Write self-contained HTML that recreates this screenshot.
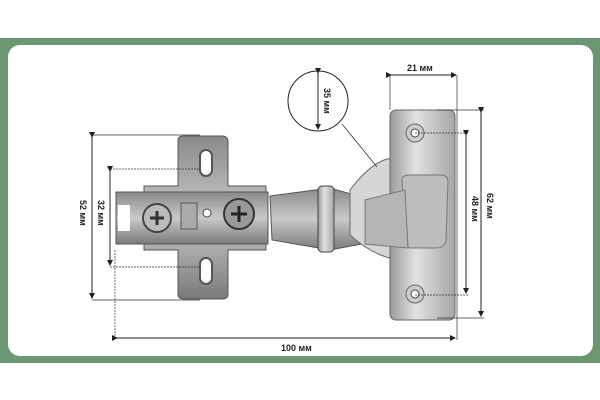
<!DOCTYPE html>
<html><head><meta charset="utf-8"><style>
html,body{margin:0;padding:0;background:#fff;width:600px;height:400px;overflow:hidden}
svg{display:block}
text{font-family:"Liberation Sans",sans-serif;font-weight:bold;font-size:9px;fill:#222}
</style></head><body>
<svg width="600" height="400" viewBox="0 0 600 400">
<defs>
<linearGradient id="m" x1="0" y1="0" x2="0" y2="1">
<stop offset="0" stop-color="#8a8a8a"/><stop offset=".5" stop-color="#c9c9c9"/><stop offset="1" stop-color="#7a7a7a"/></linearGradient>
<linearGradient id="r" x1="0" y1="0" x2="1" y2="0">
<stop offset="0" stop-color="#9a9a9a"/><stop offset=".4" stop-color="#e2e2e2"/><stop offset="1" stop-color="#a5a5a5"/></linearGradient>
<marker id="a" markerWidth="6" markerHeight="6" refX="5" refY="3" orient="auto"><path d="M0,0 L6,3 L0,6z" fill="#222"/></marker>
</defs>
<rect x="0" y="38" width="600" height="325" fill="#6b9872"/>
<rect x="8" y="45" width="585" height="311" rx="12" fill="#fff"/>
<!-- left plate -->
<path d="M178,140 Q178,136 184,136 L222,136 Q228,136 228,142 L228,186 L266,186 L266,250 L228,250 L228,294 Q228,299 222,299 L184,299 Q178,299 178,294 L178,250 L144,250 L144,186 L178,186Z" fill="url(#m)" stroke="#555" stroke-width="1"/>
<rect x="116" y="192" width="152" height="52" fill="url(#m)" stroke="#555"/>
<rect x="200" y="150" width="12" height="26" rx="6" fill="#fff" stroke="#555" stroke-width="2"/>
<rect x="200" y="258" width="12" height="26" rx="6" fill="#fff" stroke="#555" stroke-width="2"/>
<rect x="118" y="205" width="12" height="26" fill="#fff"/>
<circle cx="157" cy="218" r="14" fill="#bbb" stroke="#444" stroke-width="2"/>
<path d="M150,218h14M157,211v14" stroke="#333" stroke-width="3"/>
<circle cx="239" cy="214" r="15" fill="#999" stroke="#333" stroke-width="2"/>
<path d="M231,214h16M239,206v16" stroke="#222" stroke-width="3"/>
<rect x="181" y="203" width="16" height="26" fill="#aaa" stroke="#555"/>
<circle cx="207" cy="213" r="4" fill="#fff" stroke="#444"/>
<!-- arm -->
<path d="M270,196 L330,188 L365,198 L362,244 L330,250 L272,240Z" fill="url(#m)" stroke="#555"/>
<rect x="318" y="186" width="16" height="66" rx="4" fill="url(#r)" stroke="#444"/>
<!-- cup -->
<path d="M350,190 Q380,150 405,160 L410,260 Q380,262 350,235Z" fill="#d6d6d6" stroke="#666"/>
<!-- right plate -->
<rect x="390" y="110" width="65" height="210" rx="6" fill="url(#r)" stroke="#666"/>
<path d="M402,180 Q402,175 410,175 L440,175 Q448,175 448,182 L446,240 Q445,248 436,248 L412,248 Q404,248 404,240Z" fill="#bdbdbd" stroke="#777"/>
<path d="M365,200 L405,190 L408,248 L365,244Z" fill="#b5b5b5" stroke="#777"/>
<circle cx="415" cy="133" r="9" fill="#ccc" stroke="#666"/><circle cx="415" cy="133" r="4" fill="#fff" stroke="#444"/>
<circle cx="415" cy="294" r="9" fill="#ccc" stroke="#666"/><circle cx="415" cy="294" r="4" fill="#fff" stroke="#444"/>
<!-- 35 circle -->
<circle cx="318" cy="101" r="30" fill="#fff" stroke="#222" stroke-width="1"/>
<line x1="318" y1="73" x2="318" y2="129" stroke="#222" marker-end="url(#a)" marker-start="url(#a)"/>
<text transform="translate(324,88) rotate(90)">35 мм</text>
<line x1="342" y1="124" x2="377" y2="167" stroke="#333" stroke-width=".8"/>
<!-- dims -->
<g stroke="#333" stroke-width=".7" fill="none">
<line x1="390" y1="75" x2="390" y2="110"/><line x1="457" y1="75" x2="457" y2="340"/>
<line x1="437" y1="110" x2="484" y2="110"/><line x1="437" y1="318" x2="484" y2="318"/>
<line x1="415" y1="133" x2="469" y2="133" stroke-dasharray="2 1"/><line x1="415" y1="295" x2="469" y2="295" stroke-dasharray="2 1"/>
<line x1="92" y1="135" x2="200" y2="135"/><line x1="92" y1="300" x2="200" y2="300"/>
<line x1="110" y1="169" x2="200" y2="169" stroke-dasharray="2 1"/><line x1="110" y1="267" x2="200" y2="267" stroke-dasharray="2 1"/>
<line x1="115" y1="250" x2="115" y2="338" stroke-dasharray="2 1"/>
</g>
<g stroke="#222" stroke-width="1">
<line x1="391" y1="75" x2="456" y2="75" marker-end="url(#a)" marker-start="url(#a)"/>
<line x1="481" y1="112" x2="481" y2="316" marker-end="url(#a)" marker-start="url(#a)"/>
<line x1="466" y1="135" x2="466" y2="293" marker-end="url(#a)" marker-start="url(#a)"/>
<line x1="92" y1="137" x2="92" y2="298" marker-end="url(#a)" marker-start="url(#a)"/>
<line x1="110" y1="171" x2="110" y2="265" marker-end="url(#a)" marker-start="url(#a)"/>
<line x1="117" y1="338" x2="455" y2="338" marker-end="url(#a)" marker-start="url(#a)"/>
</g>
<text x="407" y="71">21 мм</text>
<text x="281" y="351">100 мм</text>
<text transform="translate(487,193) rotate(90)">62 мм</text>
<text transform="translate(472,196) rotate(90)">48 мм</text>
<text transform="translate(80,200) rotate(90)">52 мм</text>
<text transform="translate(98,200) rotate(90)">32 мм</text>
</svg>
</body></html>
